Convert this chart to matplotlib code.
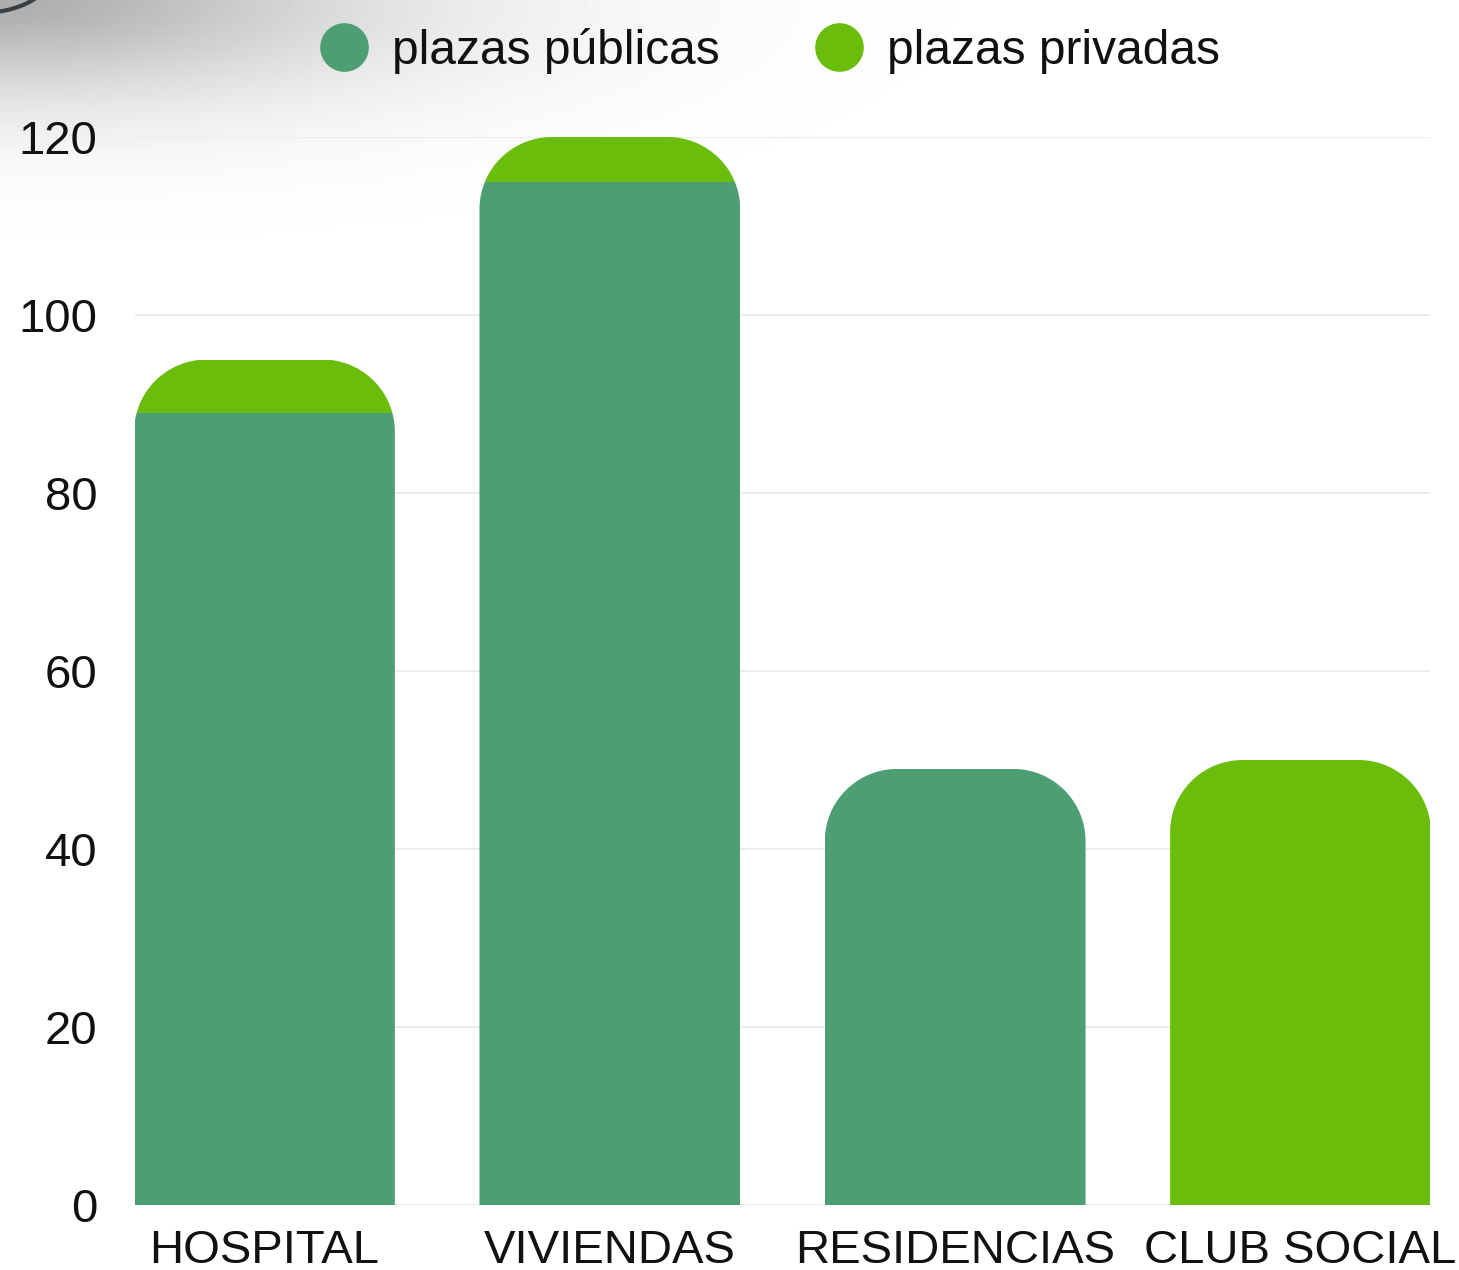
import numpy as np
import matplotlib
matplotlib.use("Agg")
from matplotlib import pyplot as plt
from matplotlib.path import Path
from matplotlib.patches import PathPatch
from matplotlib.lines import Line2D

plt.rcParams['font.family'] = ['Liberation Sans', 'DejaVu Sans']

categories = ["HOSPITAL", "VIVIENDAS", "RESIDENCIAS", "CLUB SOCIAL"]
publicas = [89, 115, 49, 0]
privadas = [6, 5, 0, 50]
yticks = [0, 20, 40, 60, 80, 100, 120]

c_pub = "#4e9e73"
c_priv = "#6abd0b"

fig = plt.figure(figsize=(14.59, 12.70), dpi=100)

# sombra gris de la esquina superior izquierda
bg = fig.add_axes([0, 0, 1, 1], zorder=-5)
gx, gy = np.meshgrid(np.linspace(0, 1459, 300), np.linspace(0, 1270, 260))
shade = 1 - 0.32 * np.exp(-((gx / 380) ** 2 + (gy / 95) ** 2) ** 0.8)
bg.imshow(shade, cmap="gray", vmin=0, vmax=1, extent=[0, 1459, 1270, 0], aspect="auto")
bg.set_xlim(0, 1459)
bg.set_ylim(1270, 0)
tt = np.linspace(0, np.pi / 2, 50)
bg.plot(-20 + 70 * np.cos(tt), -25 + 38 * np.sin(tt), color="#3a3f44", lw=3)
bg.axis("off")

ax = fig.add_axes([135 / 1459, 65 / 1270, (1430 - 135) / 1459, (1205 - 137) / 1270])
ax.patch.set_alpha(0)

x = np.arange(len(categories))
w = 0.755
rx, ry = 0.21, 8.1

b1 = ax.bar(x, publicas, w, color=c_pub, zorder=3, linewidth=0)
b2 = ax.bar(x, privadas, w, bottom=publicas, color=c_priv, zorder=3, linewidth=0)

# esquinas superiores redondeadas (recorte de cada columna apilada)
t = np.linspace(0, np.pi / 2, 30)
for i in range(len(categories)):
    top = publicas[i] + privadas[i]
    x0, x1 = x[i] - w / 2, x[i] + w / 2
    left = np.column_stack([x0 + rx - rx * np.cos(t), top - ry + ry * np.sin(t)])
    right = np.column_stack([x1 - rx + rx * np.sin(t), top - ry + ry * np.cos(t)])
    verts = np.vstack([[x0, 0], left, right, [x1, 0], [x0, 0]])
    clip = PathPatch(Path(verts), transform=ax.transData, facecolor="none", edgecolor="none")
    ax.add_patch(clip)
    b1[i].set_clip_path(clip)
    b2[i].set_clip_path(clip)

ax.set_xlim(-0.375, 3.375)
ax.set_ylim(0, 120)
ax.set_yticks(yticks)
ax.set_xticks(x)
ax.set_xticklabels(categories)
ax.tick_params(axis="both", length=0, labelsize=34, colors="#111111")
ax.tick_params(axis="y", pad=27)
ax.tick_params(axis="x", pad=17)
ax.grid(axis="y", color="#ececec", linewidth=1.5, zorder=0)
for s in ax.spines.values():
    s.set_visible(False)

handles = [Line2D([], [], marker="o", linestyle="none", markersize=34, color=c_pub),
           Line2D([], [], marker="o", linestyle="none", markersize=34, color=c_priv)]
fig.legend(handles, ["plazas públicas", "plazas privadas"], loc="center",
           bbox_to_anchor=(770 / 1459, 1 - 51 / 1270), ncol=2, frameon=False,
           fontsize=34.5, handlelength=1.0, handletextpad=0.5, columnspacing=2.0,
           labelcolor="#111111")

fig.savefig("out.png", dpi=100)
